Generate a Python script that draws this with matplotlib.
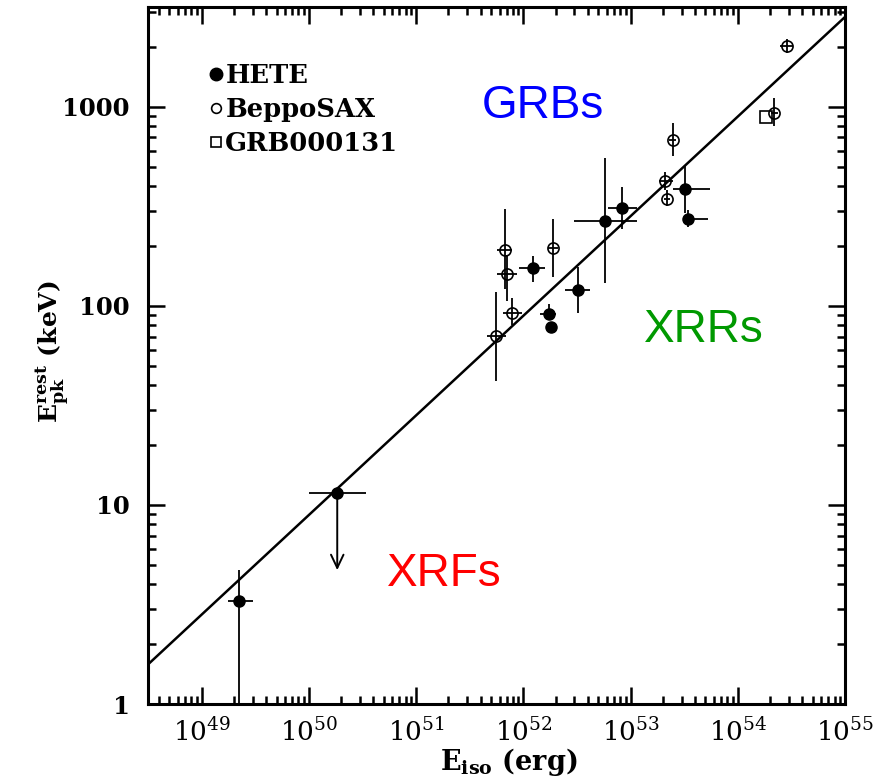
import matplotlib
matplotlib.use("Agg")
import numpy as np
import matplotlib.pyplot as plt
from matplotlib.lines import Line2D
from matplotlib.ticker import LogLocator, FixedLocator, NullFormatter

plt.rcParams["font.family"] = ["DejaVu Serif"]
plt.rcParams["mathtext.fontset"] = "dejavuserif"

# HETE bursts (filled circles)
hete_x = [2.24e49, 1.22e52, 1.73e52, 1.80e52, 3.22e52, 5.83e52, 8.3e52, 3.24e53, 3.47e53]
hete_x_lo = [1.75e49, 9.2e51, 1.44e52, 1.80e52, 2.47e52, 3.0e52, 6.2e52, 2.47e53, 3.06e53]
hete_x_hi = [3.0e49, 1.6e52, 2.03e52, 1.80e52, 4.23e52, 1.14e53, 1.14e53, 5.47e53, 5.26e53]
hete_y = [3.3, 155, 90.5, 78, 120.5, 265, 311, 387, 274]
hete_y_lo = [0.5, 131, 84.5, 78, 92, 130, 244, 291, 249]
hete_y_hi = [4.7, 177, 102, 78, 156, 549, 394, 507, 303]

# HETE upper limit (XRF)
lim_x = [1.84e50]
lim_x_lo = [1.0e50]
lim_x_hi = [3.4e50]
lim_y = [11.5]
lim_y_end = [4.7]

# BeppoSAX bursts (open circles)
sax_x = [5.6e51, 6.76e51, 7.1e51, 7.8e51, 1.9e52, 2.09e53, 2.19e53, 2.48e53, 2.19e54, 2.85e54]
sax_x_lo = [4.6e51, 5.7e51, 5.7e51, 6.4e51, 1.71e52, 1.83e53, 2.05e53, 2.3e53, 2.05e54, 2.5e54]
sax_x_hi = [6.9e51, 7.9e51, 8.8e51, 9.8e51, 2.12e52, 2.47e53, 2.35e53, 2.65e53, 2.35e54, 3.3e54]
sax_y = [70.5, 191, 145, 92, 194, 421, 344, 681, 927, 2026]
sax_y_lo = [42, 122, 106, 80, 139, 379, 315, 562, 795, 1868]
sax_y_hi = [117, 307, 179, 109, 271, 467, 379, 826, 1102, 2172]

# GRB000131 (open square)
grb_x = [1.85e54]
grb_y = [885]

# fitted relation endpoints
fit_x = [10 ** 48.5, 1e55]
fit_y = [1.58, 2818]

fig = plt.figure(figsize=(8.8, 7.79), dpi=100)
ax = fig.add_axes([148 / 880, 1 - 704 / 779, 697 / 880, 697 / 779])
ax.set_xscale("log")
ax.set_yscale("log")
ax.set_xlim(10 ** 48.5, 1e55)
ax.set_ylim(1, 10 ** 3.5)

ax.plot(fit_x, fit_y, color="black", lw=1.8, zorder=2)


def err(v, lo, hi):
    v = np.array(v)
    return [v - np.array(lo), np.array(hi) - v]


ax.errorbar(hete_x, hete_y, xerr=err(hete_x, hete_x_lo, hete_x_hi),
            yerr=err(hete_y, hete_y_lo, hete_y_hi), fmt="o", color="black",
            ms=8, elinewidth=1.3, capsize=0, zorder=3)
ax.errorbar(lim_x, lim_y, xerr=err(lim_x, lim_x_lo, lim_x_hi), fmt="o",
            color="black", ms=8, elinewidth=1.3, capsize=0, zorder=3)
ax.annotate("", xy=(lim_x[0], lim_y_end[0]), xytext=(lim_x[0], lim_y[0]),
            arrowprops=dict(arrowstyle="->,head_length=0.95,head_width=0.45",
                            color="black", lw=1.4, shrinkA=0, shrinkB=0))
ax.errorbar(sax_x, sax_y, xerr=err(sax_x, sax_x_lo, sax_x_hi),
            yerr=err(sax_y, sax_y_lo, sax_y_hi), fmt="o", color="black",
            mfc="none", ms=8, mew=1.2, elinewidth=1.3, capsize=0, zorder=3)
ax.plot(grb_x, grb_y, "s", color="black", mfc="none", ms=8, mew=1.2, zorder=3)

handles = [
    Line2D([], [], marker="o", ls="none", color="black", ms=9),
    Line2D([], [], marker="o", ls="none", color="black", mfc="none", ms=7, mew=1.2),
    Line2D([], [], marker="s", ls="none", color="black", mfc="none", ms=7, mew=1.2),
]
ax.legend(handles, ["HETE", "BeppoSAX", "GRB000131"], loc="upper left",
          bbox_to_anchor=(0.087, 0.919), frameon=False, handlelength=0.6,
          handletextpad=0.05, labelspacing=0.35, borderpad=0, borderaxespad=0,
          prop=dict(family="DejaVu Serif", weight="bold", size=18.5))

ax.text(0.567, 0.858, "GRBs", transform=ax.transAxes, color="#0000ff",
        family="Liberation Sans", fontsize=33, ha="center", va="center")
ax.text(0.797, 0.536, "XRRs", transform=ax.transAxes, color="#009900",
        family="Liberation Sans", fontsize=33, ha="center", va="center")
ax.text(0.425, 0.186, "XRFs", transform=ax.transAxes, color="#ff0000",
        family="Liberation Sans", fontsize=33, ha="center", va="center")

ax.xaxis.set_major_locator(FixedLocator([1e49, 1e50, 1e51, 1e52, 1e53, 1e54, 1e55]))
ax.xaxis.set_minor_locator(LogLocator(base=10, subs=np.arange(2, 10), numticks=20))
ax.xaxis.set_minor_formatter(NullFormatter())
ax.set_xticklabels([r"$10^{%d}$" % e for e in range(49, 56)], fontsize=19)
ax.yaxis.set_major_locator(FixedLocator([1, 10, 100, 1000]))
ax.yaxis.set_minor_locator(LogLocator(base=10, subs=np.arange(2, 10), numticks=20))
ax.yaxis.set_minor_formatter(NullFormatter())
ax.set_yticklabels(["1", "10", "100", "1000"], fontsize=17.5, fontweight="bold")

ax.tick_params(which="both", direction="in", top=True, right=True, width=1.8)
ax.tick_params(which="major", length=12, pad=10)
ax.tick_params(axis="y", which="major", pad=13)
ax.tick_params(which="minor", length=6)
for s in ax.spines.values():
    s.set_linewidth(2.2)

ax.set_xlabel(r"$\mathbf{E_{iso}}$ (erg)", fontsize=19.5, fontweight="bold", labelpad=0)
ax.set_ylabel(r"$\mathbf{E_{pk}^{rest}}$ (keV)", fontsize=18, fontweight="bold")
ax.xaxis.set_label_coords(0.518, -0.06)
ax.yaxis.set_label_coords(-0.11, 0.505)

fig.savefig("out.png", dpi=100)
